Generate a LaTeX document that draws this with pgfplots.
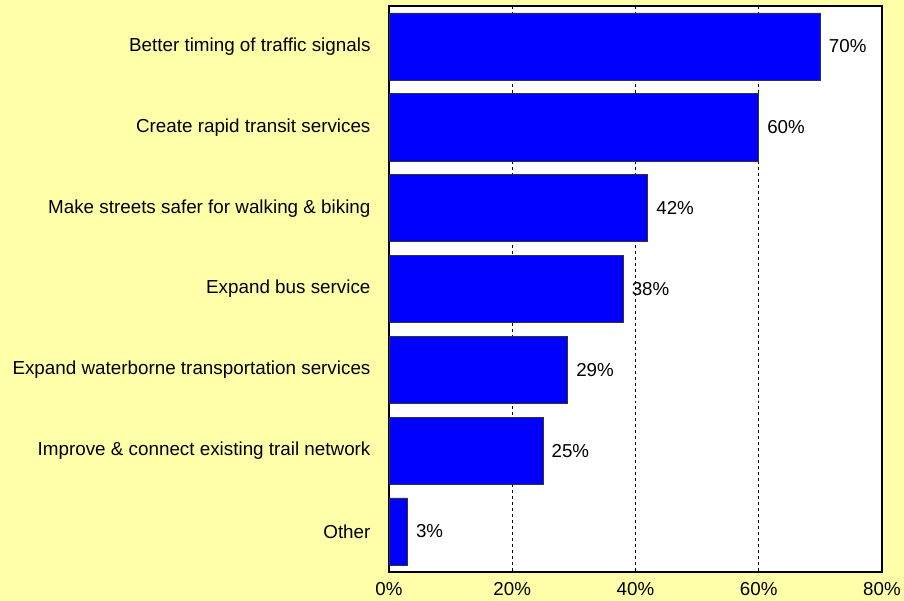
\documentclass[border=0pt]{standalone}
\usepackage{pgfplots}
\pgfplotsset{compat=1.18}
\usepackage{fontspec}
\setmainfont{Liberation Sans}
\definecolor{bgyellow}{HTML}{FFFFAA}
\definecolor{barblue}{HTML}{0000FF}
\begin{document}
\begin{tikzpicture}
\fill[bgyellow] (0,0) rectangle (904bp,601bp);
\begin{axis}[
  at={(389bp,29bp)}, anchor=south west,
  scale only axis, width=493bp, height=566bp,
  /pgf/number format/assume math mode=true,
  xbar, bar width=0.83,
  xmin=0, xmax=80, ymin=-0.5, ymax=6.5,
  y dir=reverse,
  ytick={0,...,6},
  yticklabels={Better timing of traffic signals, Create rapid transit services, Make streets safer for walking \& biking, Expand bus service, Expand waterborne transportation services, Improve \& connect existing trail network, Other},
  xtick={0,20,40,60,80},
  xticklabels={0\%,20\%,40\%,60\%,80\%},
  major tick length=0pt,
  xmajorgrids, grid style={black, dashed, line width=0.5pt},
  axis line style={black, line width=1.5pt},
  axis background/.style={fill=white},
  yticklabel style={font=\fontsize{18.9}{22}\selectfont, text=black, xshift=-15bp},
  xticklabel style={font=\fontsize{18.8}{22}\selectfont, text=black, yshift=-7bp},
  nodes near coords={\pgfmathprintnumber{\pgfplotspointmeta}\%},
  nodes near coords style={font=\fontsize{18.8}{22}\selectfont, anchor=west, xshift=5bp, text=black},
  clip=false,
]
\addplot[fill=barblue, draw=black!80, line width=0.6pt] coordinates {
  (70,0) (60,1) (42,2) (38,3) (29,4) (25,5) (3,6)
};
\end{axis}
\end{tikzpicture}
\end{document}
